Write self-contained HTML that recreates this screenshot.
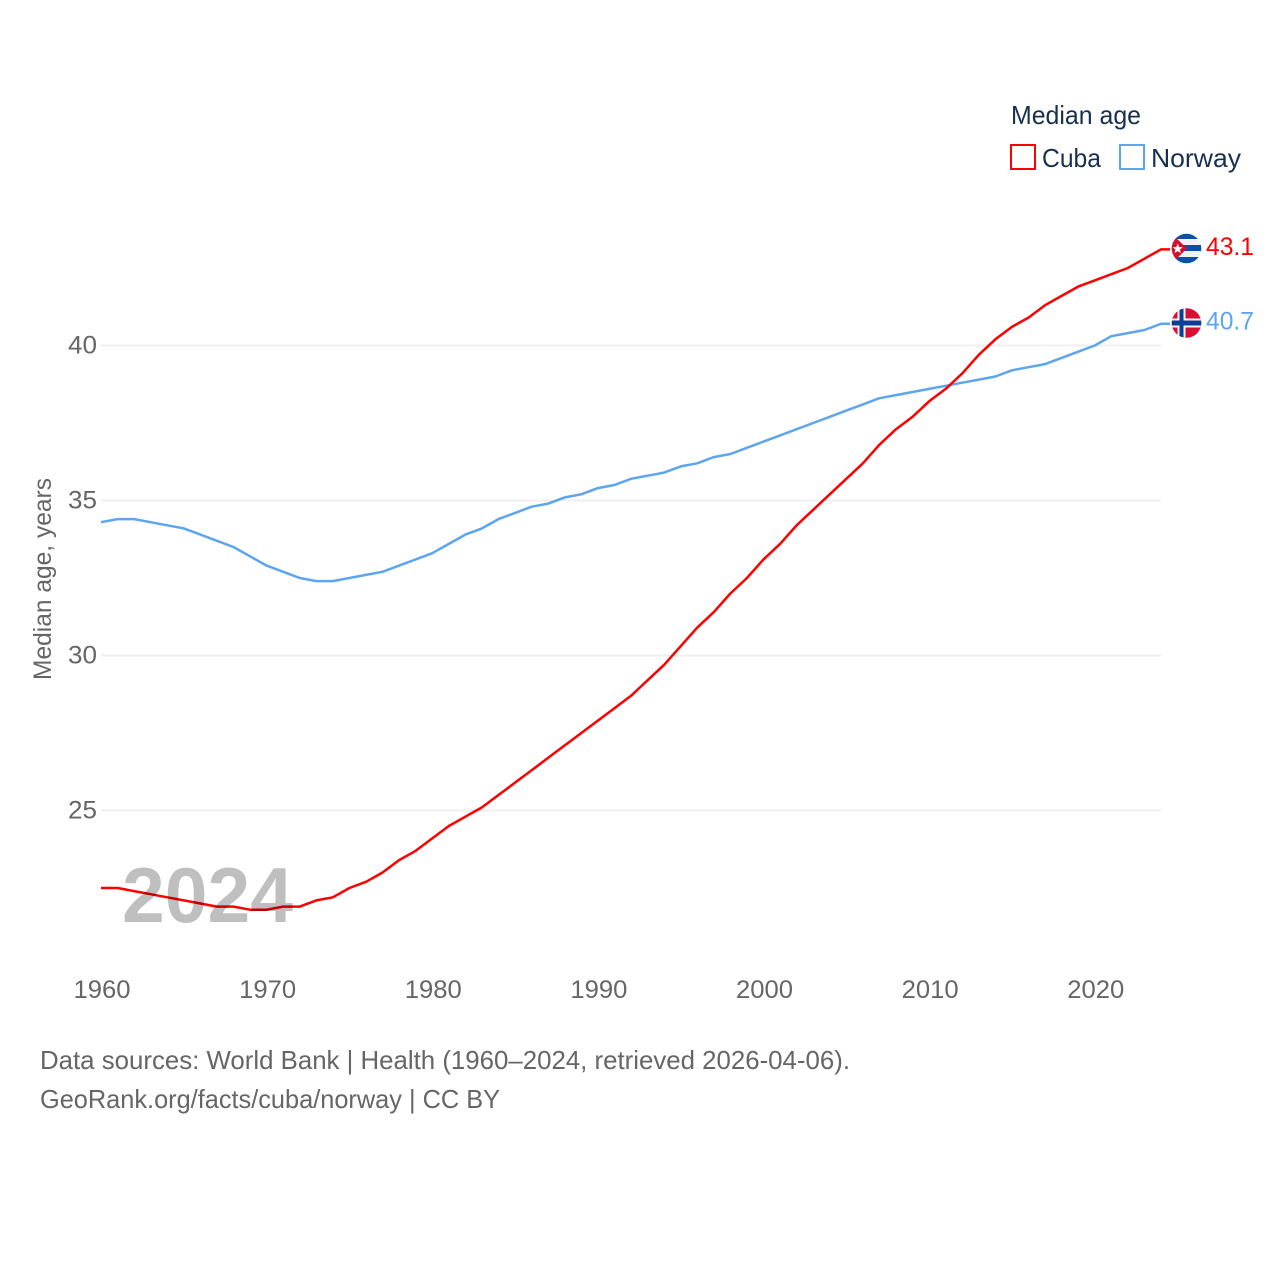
<!DOCTYPE html>
<html lang="en">
<head>
<meta charset="utf-8">
<title>Median age: Cuba and Norway</title>
<style>
html,body{margin:0;padding:0;background:#fff;width:1280px;height:1280px;overflow:hidden}
svg{display:block}
text{font-family:"Liberation Sans",sans-serif}
.ax{fill:#666;font-size:25px}
.leg{fill:#18304f;font-size:26px}
.src{fill:#666;font-size:26px}
</style>
</head>
<body>
<svg id="chart" xmlns="http://www.w3.org/2000/svg" width="1280" height="1280" viewBox="0 0 1280 1280">
  <rect width="1280" height="1280" fill="#fff"/>
  <g id="grid"></g>
  <g id="yticks"></g>
  <g id="xticks"></g>
  <text class="ax" transform="translate(51,680) rotate(-90)" textLength="202" lengthAdjust="spacingAndGlyphs">Median age, years</text>
  <g id="series"></g>
  <text id="year" x="122" y="922" font-size="78" fill="#000" fill-opacity="0.25" stroke="#000" stroke-opacity="0.25" stroke-width="0" font-weight="bold" textLength="171" lengthAdjust="spacingAndGlyphs">2024</text>

  <g>
    <text class="leg" x="1011" y="124" textLength="130" lengthAdjust="spacingAndGlyphs">Median age</text>
    <rect x="1011" y="145" width="24" height="24" fill="none" stroke="#ff0000" stroke-width="2"/>
    <text class="leg" x="1042" y="167" textLength="59" lengthAdjust="spacingAndGlyphs">Cuba</text>
    <rect x="1120" y="145" width="24" height="24" fill="none" stroke="#5da5ee" stroke-width="2"/>
    <text class="leg" x="1151" y="167" textLength="90" lengthAdjust="spacingAndGlyphs">Norway</text>
  </g>

  <defs>
    <clipPath id="clip-cuba"><circle cx="1186.5" cy="248.5" r="14.8"/></clipPath>
    <clipPath id="clip-norway"><circle cx="1186.5" cy="323" r="14.8"/></clipPath>
  </defs>
  <g clip-path="url(#clip-cuba)">
    <rect x="1171" y="233" width="31" height="31" fill="#f1f1f1"/>
    <rect x="1171" y="233" width="31" height="6" fill="#0a4fa8"/>
    <rect x="1171" y="245" width="31" height="6" fill="#0a4fa8"/>
    <rect x="1171" y="257" width="31" height="7" fill="#0a4fa8"/>
    <polygon points="1171,233 1171,264 1187,248.5" fill="#d3112e"/>
    <polygon points="1177.7,243.6 1179.1,247 1182.7,247.2 1179.9,249.5 1180.8,253 1177.7,251.1 1174.6,253 1175.5,249.5 1172.7,247.2 1176.3,247" fill="#fff"/>
  </g>
  <g clip-path="url(#clip-norway)">
    <rect x="1171" y="308" width="31" height="30" fill="#d80f32"/>
    <rect x="1177.5" y="308" width="8" height="30" fill="#f4f4f4"/>
    <rect x="1171" y="318.5" width="31" height="9" fill="#f4f4f4"/>
    <rect x="1179.5" y="308" width="4" height="30" fill="#0a3f95"/>
    <rect x="1171" y="320.5" width="31" height="5" fill="#0a3f95"/>
  </g>
  <text x="1206" y="255" font-size="25" fill="#ff0000" textLength="48" lengthAdjust="spacingAndGlyphs">43.1</text>
  <text x="1206" y="329.5" font-size="25" fill="#5da5ee" textLength="48" lengthAdjust="spacingAndGlyphs">40.7</text>

  <text class="src" x="40" y="1069" textLength="810" lengthAdjust="spacingAndGlyphs">Data sources: World Bank | Health (1960–2024, retrieved 2026-04-06).</text>
  <text class="src" x="40" y="1108" textLength="460" lengthAdjust="spacingAndGlyphs">GeoRank.org/facts/cuba/norway | CC BY</text>
</svg>
<script>
const firstYear = 1960;
const yTickValues = [25, 30, 35, 40];
const xTickValues = [1960, 1970, 1980, 1990, 2000, 2010, 2020];
const cubaValues = [22.5,22.5,22.4,22.3,22.2,22.1,22.0,21.9,21.9,21.8,21.8,21.9,21.9,22.1,22.2,22.5,22.7,23.0,23.4,23.7,24.1,24.5,24.8,25.1,25.5,25.9,26.3,26.7,27.1,27.5,27.9,28.3,28.7,29.2,29.7,30.3,30.9,31.4,32.0,32.5,33.1,33.6,34.2,34.7,35.2,35.7,36.2,36.8,37.3,37.7,38.2,38.6,39.1,39.7,40.2,40.6,40.9,41.3,41.6,41.9,42.1,42.3,42.5,42.8,43.1];
const norwayValues = [34.3,34.4,34.4,34.3,34.2,34.1,33.9,33.7,33.5,33.2,32.9,32.7,32.5,32.4,32.4,32.5,32.6,32.7,32.9,33.1,33.3,33.6,33.9,34.1,34.4,34.6,34.8,34.9,35.1,35.2,35.4,35.5,35.7,35.8,35.9,36.1,36.2,36.4,36.5,36.7,36.9,37.1,37.3,37.5,37.7,37.9,38.1,38.3,38.4,38.5,38.6,38.7,38.8,38.9,39.0,39.2,39.3,39.4,39.6,39.8,40.0,40.3,40.4,40.5,40.7];

const NS = 'http://www.w3.org/2000/svg';
function xScale(year) { return 101 + (year - 1960) * (1060 / 64); }
function yScale(value) { return 345.5 + (40 - value) * 31; }
function make(tag, parentId, attrs, txt) {
  const el = document.createElementNS(NS, tag);
  for (const k in attrs) el.setAttribute(k, attrs[k]);
  if (txt !== undefined) el.textContent = txt;
  document.getElementById(parentId).appendChild(el);
  return el;
}

yTickValues.forEach(function (v) {
  const line = make('line', 'grid', {x1: 101, x2: 1161, y1: yScale(v), y2: yScale(v), stroke: '#efefef', 'stroke-width': 2});
  
  
  const label = make('text', 'yticks', {x: 68, y: yScale(v) + 8, 'class': 'ax', textLength: 29, lengthAdjust: 'spacingAndGlyphs'}, String(v));
  
  
});

xTickValues.forEach(function (y) {
  const label = make('text', 'xticks', {x: xScale(y) + 1, y: 998, 'class': 'ax', 'text-anchor': 'middle', textLength: 57, lengthAdjust: 'spacingAndGlyphs'}, String(y));
  
  
});

function drawSeries(values, color, name) {
  const pts = values.map(function (v, i) { return xScale(firstYear + i).toFixed(2) + ',' + yScale(v).toFixed(2); });
  const last = values[values.length - 1];
  pts.push('1170,' + yScale(last).toFixed(2));
  const line = make('polyline', 'series', {points: pts.join(' '), fill: 'none', stroke: color, 'stroke-width': 2.5, 'stroke-linejoin': 'round'});
  
  
}
drawSeries(norwayValues, '#5da5ee', 'series-line-norway');
drawSeries(cubaValues, '#ff0000', 'series-line-cuba');
</script>
</body>
</html>
